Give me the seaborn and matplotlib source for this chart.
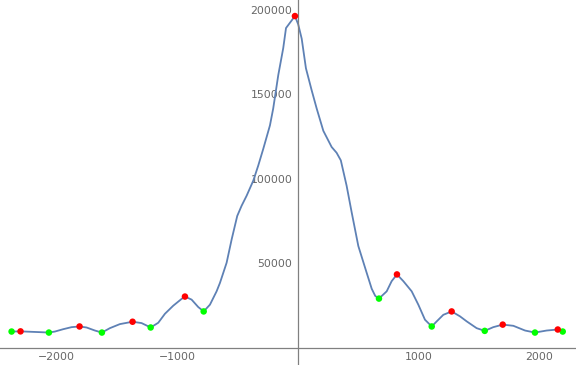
import matplotlib
matplotlib.use("Agg")
import matplotlib.pyplot as plt
import seaborn as sns
import pandas as pd
from matplotlib.ticker import FixedLocator

# ---- data ----
curve_x = [-2372, -2298, -2193, -2124, -2063, -2013, -1944, -1875, -1809, -1751,
           -1682, -1624, -1558, -1475, -1370, -1295, -1220, -1157, -1102, -1033,
           -964, -936, -881, -826, -781, -729, -674, -646, -591, -549,
           -503, -467, -425, -370, -329, -287, -232, -205, -163, -122,
           -99, -25, 2, 31, 66, 113, 155, 210, 279, 320,
           355, 403, 445, 500, 569, 611, 640, 671, 735, 776,
           820, 873, 942, 997, 1052, 1108, 1149, 1204, 1273, 1342,
           1398, 1480, 1547, 1618, 1696, 1784, 1881, 1963, 2060, 2152,
           2193]
curve_y = [9700, 9800, 9500, 9300, 9100, 9700, 11100, 12300, 12700, 12100,
           10300, 9100, 11700, 14100, 15500, 14700, 12100, 14900, 20200, 25000,
           29000, 30400, 28600, 24200, 21600, 25600, 33500, 38500, 50400, 64300,
           78100, 84100, 90100, 99000, 107900, 117900, 131700, 141700, 161500, 177400,
           189300, 196400, 191500, 183000, 165500, 152600, 141700, 128500, 118900, 115500,
           111000, 96000, 80200, 60300, 44500, 35000, 30800, 29200, 33500, 39500,
           43500, 39500, 33500, 25600, 16700, 12700, 15700, 19600, 21600, 18700,
           15700, 11700, 10100, 12300, 13800, 13100, 10300, 9100, 10300, 10900,
           9700]

green_x = [-2372, -2063, -1624, -1220, -781, 671, 1108, 1547, 1963, 2193]
green_y = [9700, 9100, 9100, 12100, 21600, 29200, 12700, 10100, 9100, 9700]
red_x = [-2298, -1809, -1370, -936, -25, 820, 1273, 1696, 2152]
red_y = [9800, 12700, 15500, 30400, 196400, 43500, 21600, 13800, 10900]

x_ticks = [-2000, -1000, 1000, 2000]
x_labels = ["\u22122000", "\u22121000", "1000", "2000"]
y_ticks = [50000, 100000, 150000, 200000]
y_labels = ["50000", "100000", "150000", "200000"]

# ---- plot ----
sns.set_style("white")
plt.rcParams['font.family'] = ['DejaVu Sans']

fig = plt.figure(figsize=(5.76, 3.65), dpi=100)
ax = fig.add_axes([0, 0, 1, 1])

df_curve = pd.DataFrame({"x": curve_x, "y": curve_y})
sns.lineplot(data=df_curve, x="x", y="y", ax=ax, color="#5E81B5", linewidth=1.3,
             sort=False, estimator=None)
sns.scatterplot(x=green_x, y=green_y, ax=ax, color="#00FF00", s=22, edgecolor="none",
                zorder=3)
sns.scatterplot(x=red_x, y=red_y, ax=ax, color="#FF0000", s=22, edgecolor="none",
                zorder=3)

ax.set_xlim(-2468, 2303)
ax.set_ylim(-10100, 205900)
ax.set_xlabel("")
ax.set_ylabel("")

for s in ["top", "right"]:
    ax.spines[s].set_visible(False)
ax.spines["left"].set_position(("data", 0))
ax.spines["bottom"].set_position(("data", 0))
for s in ["left", "bottom"]:
    ax.spines[s].set_color("#808080")
    ax.spines[s].set_linewidth(0.9)

ax.xaxis.set_major_locator(FixedLocator(x_ticks))
ax.set_xticklabels(x_labels)
ax.xaxis.set_minor_locator(FixedLocator([v for v in range(-2400, 2400, 200) if v % 1000 != 0]))
ax.yaxis.set_major_locator(FixedLocator(y_ticks))
ax.set_yticklabels(y_labels)
ax.yaxis.set_minor_locator(FixedLocator([v for v in range(10000, 210000, 10000) if v % 50000 != 0]))

ax.tick_params(axis="x", which="major", direction="in", length=4.0, width=0.8,
               color="#808080", labelcolor="#666666", labelsize=7.8, pad=3)
ax.tick_params(axis="x", which="minor", direction="in", length=2.3, width=0.7,
               color="#808080")
ax.tick_params(axis="y", which="major", direction="in", length=3.0, width=0.8,
               color="#808080", labelcolor="#666666", labelsize=7.8, pad=4)
ax.tick_params(axis="y", which="minor", direction="in", length=1.8, width=0.7,
               color="#808080")
ax.grid(False)
ax.set_facecolor("white")

fig.savefig("out.png", dpi=100, facecolor="white")
